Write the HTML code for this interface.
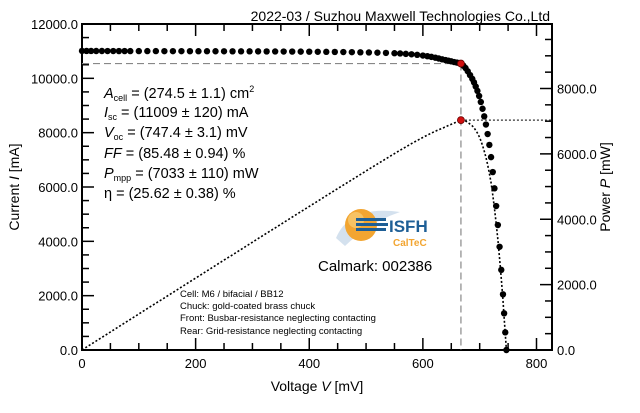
<!DOCTYPE html>
<html><head><meta charset="utf-8"><style>
body{margin:0;background:#fff;}
svg text{font-family:"Liberation Sans",sans-serif;}
</style></head><body>
<svg id="chart" width="640" height="408" xmlns="http://www.w3.org/2000/svg">
<text x="550" y="21" font-size="14" text-anchor="end">2022-03 / Suzhou Maxwell Technologies Co.,Ltd</text>
<g id="axes"></g>
<g id="marks"></g>
<g font-size="14.5">
<text x="104" y="98"><tspan font-style="italic">A</tspan><tspan font-size="9" dy="3">cell</tspan><tspan dy="-3"> = (274.5 ± 1.1) cm</tspan><tspan font-size="9" dy="-6">2</tspan></text>
<text x="104" y="117"><tspan font-style="italic">I</tspan><tspan font-size="9" dy="3">sc</tspan><tspan dy="-3"> = (11009 ± 120) mA</tspan></text>
<text x="104" y="137"><tspan font-style="italic">V</tspan><tspan font-size="9" dy="3">oc</tspan><tspan dy="-3"> = (747.4 ± 3.1) mV</tspan></text>
<text x="104" y="158"><tspan font-style="italic">FF</tspan> = (85.48 ± 0.94) %</text>
<text x="104" y="178"><tspan font-style="italic">P</tspan><tspan font-size="9" dy="3">mpp</tspan><tspan dy="-3"> = (7033 ± 110) mW</tspan></text>
<text x="104" y="198">η = (25.62 ± 0.38) %</text>
</g>
<g>
<path d="M336 238 Q350 205 400 212 Q370 222 345 246 Z" fill="#c9d9ea" opacity="0.8"/>
<circle cx="361" cy="225" r="16" fill="#f2a531"/>
<circle cx="356" cy="220" r="8" fill="#f8cf7a" opacity="0.7"/>
<rect x="356" y="218" width="30" height="3" fill="#1e5f96"/>
<rect x="356" y="223" width="32" height="3" fill="#1e5f96"/>
<rect x="356" y="228" width="30" height="3" fill="#1e5f96"/>
<text x="389" y="232" font-size="17" font-weight="bold" fill="#1e5f96">ISFH</text>
<text x="393" y="246" font-size="10" font-weight="bold" fill="#f2a531">CalTeC</text>
</g>
<text x="318" y="271" font-size="15">Calmark: 002386</text>
<g font-size="9.5">
<text x="180" y="297">Cell: M6 / bifacial / BB12</text>
<text x="180" y="309">Chuck: gold-coated brass chuck</text>
<text x="180" y="321">Front: Busbar-resistance neglecting contacting</text>
<text x="180" y="334">Rear: Grid-resistance neglecting contacting</text>
</g>
<text x="317" y="391" font-size="14" text-anchor="middle">Voltage <tspan font-style="italic">V</tspan> [mV]</text>
<text transform="translate(19,187) rotate(-90)" font-size="14" text-anchor="middle">Current <tspan font-style="italic">I</tspan> [mA]</text>
<text transform="translate(610,187) rotate(-90)" font-size="14" text-anchor="middle">Power <tspan font-style="italic">P</tspan> [mW]</text>
</svg>
<script>
const voltage=[0,8,16,25,35,45,55,65,75,85,100,115,130,145,160,175,190,205,220,235,250,265,280,295,310,325,340,355,370,385,400,415,430,445,460,475,490,505,520,535,550,560,570,580,590,600,608,615,622,628,634,640,645,650,655,660,664,667,671,675,679,683,687,690,693,696,699,702,705,708,711,714,717,720,723,726,729,732,735,738,741,743,745,747];
const current=[11009,11008,11007,11006,11006,11005,11005,11004,11004,11003,11003,11002,11002,11001,11000,11000,10999,10998,10998,10997,10996,10995,10994,10993,10992,10990,10989,10987,10985,10983,10981,10978,10975,10972,10968,10963,10958,10952,10945,10936,10925,10915,10900,10885,10865,10840,10815,10790,10760,10730,10700,10670,10650,10625,10600,10580,10560,10544,10470,10380,10260,10120,9980,9850,9700,9540,9350,9130,8880,8600,8300,7950,7550,7100,6550,5950,5300,4600,3800,2950,2050,1350,650,0];
const xTicks=[0,200,400,600,800];
const yTicks=[0,2000,4000,6000,8000,10000,12000];
const y2Ticks=[0,2000,4000,6000,8000];
const mppV=[667], mppI=[10544], mppP=[7033];
const L=82,R=552,T=24,B=350;
const xS=v=>L+v*(536.5-82)/800;
const yS=i=>B-i*(B-T)/12000;
const y2S=p=>B-p*(B-88.5)/8000;
const NS='http://www.w3.org/2000/svg';
function mk(tag,at,parent){const e=document.createElementNS(NS,tag);for(const k in at)e.setAttribute(k,at[k]);parent.appendChild(e);return e;}
const ax=document.getElementById('axes'), mg=document.getElementById('marks');
let fr=mk('rect',{x:L,y:T,width:R-L,height:B-T,fill:'none',stroke:'#000','stroke-width':2},ax);


for(let v=0;v<=825;v+=50){const maj=v%200===0;const x=xS(v);const l=maj?12:7;
 mk('line',{x1:x,y1:B,x2:x,y2:B-l,stroke:'#000','stroke-width':1.5},ax);
 mk('line',{x1:x,y1:T,x2:x,y2:T+l,stroke:'#000','stroke-width':1.5},ax);}
xTicks.forEach(v=>{const t=mk('text',{x:xS(v),y:368,'font-size':13,'text-anchor':'middle'},ax);t.textContent=v;
 
 });
for(let i=0;i<=12000;i+=500){const maj=i%2000===0;const y=yS(i);mk('line',{x1:L,y1:y,x2:L+(maj?12:7),y2:y,stroke:'#000','stroke-width':1.5},ax);}
yTicks.forEach(i=>{const t=mk('text',{x:78,y:yS(i)+5,'font-size':13,'text-anchor':'end'},ax);t.textContent=i.toFixed(1);
 
 });
for(let p=0;p<=9900;p+=500){const maj=p%2000===0;const y=y2S(p);mk('line',{x1:R,y1:y,x2:R-(maj?12:7),y2:y,stroke:'#000','stroke-width':1.5},ax);}
y2Ticks.forEach(p=>{const t=mk('text',{x:557,y:y2S(p)+5,'font-size':13},ax);t.textContent=p.toFixed(1);
 
 });
// guides
const gx=xS(mppV[0]),gy=yS(mppI[0]),gp=y2S(mppP[0]);
let g1=mk('line',{x1:L,y1:gy,x2:gx,y2:gy,stroke:'#888','stroke-width':1.2,'stroke-dasharray':'7 4'},mg);


let g2=mk('line',{x1:gx,y1:gy,x2:gx,y2:B,stroke:'#888','stroke-width':1.2,'stroke-dasharray':'7 4'},mg);


let g3=mk('line',{x1:gx,y1:gp,x2:R,y2:gp,stroke:'#333','stroke-width':1.2,'stroke-dasharray':'2 2'},mg);


// power curve
let d='';voltage.forEach((v,k)=>{d+=(k?'L':'M')+xS(v).toFixed(1)+' '+y2S(v*current[k]/1000).toFixed(1);});
let pc=mk('path',{d:d,fill:'none',stroke:'#000','stroke-width':1.6,'stroke-dasharray':'2 2'},mg);


// iv points
voltage.forEach((v,k)=>{const c=mk('circle',{cx:xS(v),cy:yS(current[k]),r:3.2,fill:'#000'},mg);
 
 });
let m1=mk('circle',{cx:gx,cy:gy,r:3.5,fill:'#d01010',stroke:'#600','stroke-width':0.8},mg);


let m2=mk('circle',{cx:gx,cy:gp,r:3.5,fill:'#d01010',stroke:'#600','stroke-width':0.8},mg);


</script>
</body></html>
